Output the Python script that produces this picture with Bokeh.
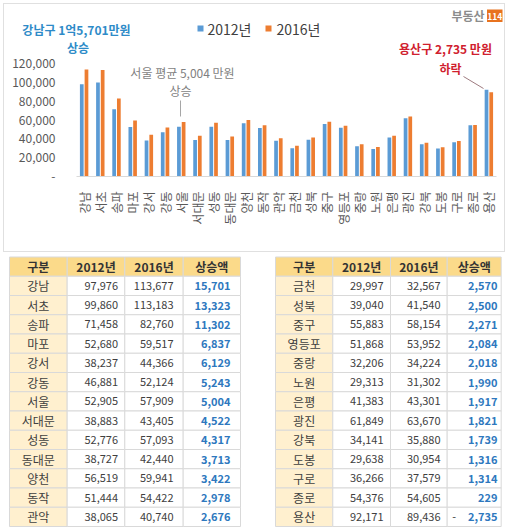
from math import pi
from bokeh.plotting import figure
from bokeh.models import (FactorRange, Range1d, FixedTicker, Label, ColumnDataSource)
from bokeh.transform import dodge
from bokeh.layouts import column
from bokeh.core.properties import value
from bokeh.embed import file_html
from bokeh.resources import INLINE

# ---------------- data ----------------
districts = ["강남", "서초", "송파", "마포", "강서", "강동", "서울", "서대문", "성동",
             "동대문", "양천", "동작", "관악", "금천", "성북", "중구", "영등포", "중랑",
             "노원", "은평", "광진", "강북", "도봉", "구로", "종로", "용산"]
price_2012 = [97976, 99860, 71458, 52680, 38237, 46881, 52905, 38883, 52776,
              38727, 56519, 51444, 38065, 29997, 39040, 55883, 51868, 32206,
              29313, 41383, 61849, 34141, 29638, 36266, 54376, 92171]
price_2016 = [113677, 113183, 82760, 59517, 44366, 52124, 57909, 43405, 57093,
              42440, 59941, 54422, 40740, 32567, 41540, 58154, 53952, 34224,
              31302, 43301, 63670, 35880, 30954, 37579, 54605, 89436]
increase = [15701, 13323, 11302, 6837, 6129, 5243, 5004, 4522, 4317, 3713,
            3422, 2978, 2676, 2570, 2500, 2271, 2084, 2018, 1990, 1917, 1821,
            1739, 1316, 1314, 229, -2735]
y_ticks = [0, 20000, 40000, 60000, 80000, 100000, 120000]
y_tick_labels = ["-", "20,000", "40,000", "60,000", "80,000", "100,000", "120,000"]
series_names = ["2012년", "2016년"]
table_headers = ["구분", "2012년", "2016년", "상승액"]

FONT = "Noto Sans CJK KR"
BLUE = "#5B9BD5"
ORANGE = "#ED7D31"
TEAL = "#2E8BC8"
RED = "#D0202E"
GREY = "#7F7F7F"

CW = 508          # width of the chart block
TOPH = 38         # header band height
CH = 217          # chart figure height (y 38 .. 255)
BL, BR, BT, BB = 64, 0, 0, 79
FRAME_W = CW - BL - BR
CAT_PX = 16.19
NCAT = len(districts)
RPAD = FRAME_W / (NCAT * CAT_PX) - 1          # percent padding of the factor range
YMAX = (CH - BT - BB) * 120000 / 113


def no_align(f):
    if "frame_align" in f.properties():
        f.frame_align = False
    return f


def band_fig(w, h, y0, transparent=False):
    f = figure(width=w, height=h, x_range=Range1d(0, w), y_range=Range1d(y0 + h, y0),
               min_border=0, x_axis_location=None, y_axis_location=None,
               outline_line_color=None, output_backend="svg", toolbar_location=None)
    f.grid.visible = False
    if transparent:
        f.background_fill_color = None
        f.border_fill_color = None
    return no_align(f)


# ---------------- header band (title, legend, logo) ----------------
top = band_fig(CW, TOPH, 0, transparent=True)


def txt(fig, x, y, text, color, size="12px", style="normal", align="center"):
    fig.text(x=[x], y=[y], text=[text], text_align=align, text_baseline="middle",
             text_color=color, text_font=value(FONT), text_font_size=size,
             text_font_style=style)


txt(top, 76, 29, "강남구 1억5,701만원", TEAL, style="bold")
txt(top, 484, 15, "부동산", "#8C8C8C", size="12px", style="bold", align="right")
top.quad(left=[486.5], right=[502], top=[9], bottom=[21.5], fill_color="#E8731F",
         line_color=None)
txt(top, 494.3, 15.5, "114", "white", size="8.5px", style="bold")

# legend: colour swatches + series names
top.scatter(x=[200, 268], y=[28, 28], marker="square", size=6,
            fill_color=[BLUE, ORANGE], line_color=None)
top.text(x=[207, 276], y=[28, 28], text=series_names, text_align="left",
         text_baseline="middle", text_color="#404040", text_font=value(FONT),
         text_font_size="14px")

# ---------------- bar chart ----------------
src = ColumnDataSource(dict(district=districts, p12=price_2012, p16=price_2016))

p = figure(width=CW, height=CH,
           x_range=FactorRange(*districts, range_padding=RPAD),
           y_range=Range1d(0, YMAX), output_backend="svg", toolbar_location=None,
           min_border_left=BL, min_border_right=BR, min_border_top=BT,
           min_border_bottom=BB, outline_line_color=None)
no_align(p)
p.background_fill_color = None
p.border_fill_color = None
p.xgrid.visible = False
p.ygrid.visible = False

p.vbar(x=dodge("district", -0.145, range=p.x_range), top="p12", width=0.23,
       source=src, fill_color=BLUE, line_color=None, legend_label=series_names[0])
p.vbar(x=dodge("district", 0.145, range=p.x_range), top="p16", width=0.23,
       source=src, fill_color=ORANGE, line_color=None, legend_label=series_names[1])
p.legend.visible = False

p.yaxis.ticker = FixedTicker(ticks=y_ticks)
p.yaxis.major_label_overrides = {t: l for t, l in zip(y_ticks, y_tick_labels)}
p.yaxis.axis_line_color = None
p.yaxis.major_tick_line_color = None
p.yaxis.minor_tick_line_color = None
p.yaxis.major_label_standoff = 3
p.yaxis.major_label_text_font = FONT
p.yaxis.major_label_text_font_size = "12px"
p.yaxis.major_label_text_color = "#595959"

p.xaxis.axis_line_color = "#D9D9D9"
p.xaxis.bounds = (0, NCAT)
p.xaxis.major_tick_line_color = None
p.xaxis.minor_tick_line_color = None
p.xaxis.major_label_orientation = pi / 2
p.xaxis.major_label_standoff = 9
p.xaxis.major_label_text_font = FONT
p.xaxis.major_label_text_font_size = "12px"
p.xaxis.major_label_text_color = "#595959"

# page-pixel -> data helpers for the in-chart annotations
FL = BL
FB = TOPH + CH - BB
X0 = -NCAT * RPAD / 2
cat_px = FRAME_W / (NCAT * (1 + RPAD))
y_px = (CH - BT - BB) / YMAX


def dx(px):
    return X0 + (px - FL) / cat_px


def dy(py):
    return (FB - py) / y_px


def add_label(px, py, text, color, style="normal"):
    p.add_layout(Label(x=dx(px), y=dy(py), text=text, text_align="center",
                       text_baseline="middle", text_color=color,
                       text_font=FONT, text_font_size="12px",
                       text_font_style=style))


add_label(77.5, 47, "상승", TEAL, style="bold")
add_label(445, 48, "용산구 2,735 만원", RED, style="bold")
add_label(450, 68, "하락", RED, style="bold")
add_label(182, 72, "서울 평균 5,004 만원", GREY)
add_label(180, 90, "상승", GREY)

p.segment(x0=[dx(180)], y0=[dy(100)], x1=[dx(180)], y1=[dy(116)],
          line_color="#A6A6A6", line_width=1)
p.segment(x0=[dx(463)], y0=[dy(76)], x1=[dx(483)], y1=[dy(88)],
          line_color="#9E7B80", line_width=1)

# each plot in its own column so their frames are not aligned with each other
chart_block = column(column(top), column(p), spacing=0,
                     styles={"box-shadow": "inset 0 0 0 3px #FFFFFF, inset 0 0 0 4px #E0E0E0"})

# ---------------- tables ----------------
TTOP = TOPH + CH
TH = 532 - TTOP
t = band_fig(510, TH, TTOP)

ROW0, ROWH = 256.5, 19.25
tables = [
    dict(edges=[9, 66.7, 124.3, 182.7, 240], anchors=[117.5, 173, 230], rows=range(0, 13)),
    dict(edges=[275, 332.3, 390, 446.7, 500.7], anchors=[383, 440, 497], rows=range(13, 26)),
]

cells = dict(left=[], right=[], top=[], bottom=[], color=[])
head = dict(x=[], y=[], text=[])
names = dict(x=[], y=[], text=[])
nums = dict(x=[], y=[], text=[])
incs = dict(x=[], y=[], text=[])
dash = dict(x=[], y=[], text=[])

for tb in tables:
    e = tb["edges"]
    nrows = len(tb["rows"]) + 1
    for r in range(nrows):
        for c in range(4):
            cells["left"].append(e[c])
            cells["right"].append(e[c + 1])
            cells["top"].append(ROW0 + r * ROWH)
            cells["bottom"].append(ROW0 + (r + 1) * ROWH)
            cells["color"].append("#FBDA8A" if r == 0 else ("#FFF0CF" if c == 0 else "white"))
    for c in range(4):
        head["x"].append((e[c] + e[c + 1]) / 2)
        head["y"].append(ROW0 + ROWH / 2)
        head["text"].append(table_headers[c])
    for k, i in enumerate(tb["rows"]):
        yc = ROW0 + (k + 1.5) * ROWH
        names["x"].append((e[0] + e[1]) / 2)
        names["y"].append(yc)
        names["text"].append(districts[i])
        nums["x"] += [tb["anchors"][0], tb["anchors"][1]]
        nums["y"] += [yc, yc]
        nums["text"] += [f"{price_2012[i]:,}", f"{price_2016[i]:,}"]
        incs["x"].append(tb["anchors"][2])
        incs["y"].append(yc)
        incs["text"].append(f"{abs(increase[i]):,}")
        if increase[i] < 0:
            dash["x"].append(e[3] + 7)
            dash["y"].append(yc)
            dash["text"].append("-")

t.quad(left="left", right="right", top="top", bottom="bottom", fill_color="color",
       line_color="#D9D9D9", line_width=1, source=ColumnDataSource(cells))
t.text(x="x", y="y", text="text", source=ColumnDataSource(head), text_align="center",
       text_baseline="middle", text_font=value(FONT), text_font_size="12px",
       text_font_style="bold", text_color="#333333")
t.text(x="x", y="y", text="text", source=ColumnDataSource(names), text_align="center",
       text_baseline="middle", text_font=value(FONT), text_font_size="12px",
       text_color="#404040")
t.text(x="x", y="y", text="text", source=ColumnDataSource(nums), text_align="right",
       text_baseline="middle", text_font=value(FONT), text_font_size="11px",
       text_color="#404040")
t.text(x="x", y="y", text="text", source=ColumnDataSource(incs), text_align="right",
       text_baseline="middle", text_font=value(FONT), text_font_size="11px",
       text_font_style="bold", text_color="#2E78BE")
t.text(x="x", y="y", text="text", source=ColumnDataSource(dash), text_align="center",
       text_baseline="middle", text_font=value(FONT), text_font_size="11px",
       text_color="#404040")

layout = column(chart_block, t, spacing=0)
open("out.html", "w").write(file_html(layout, INLINE))
